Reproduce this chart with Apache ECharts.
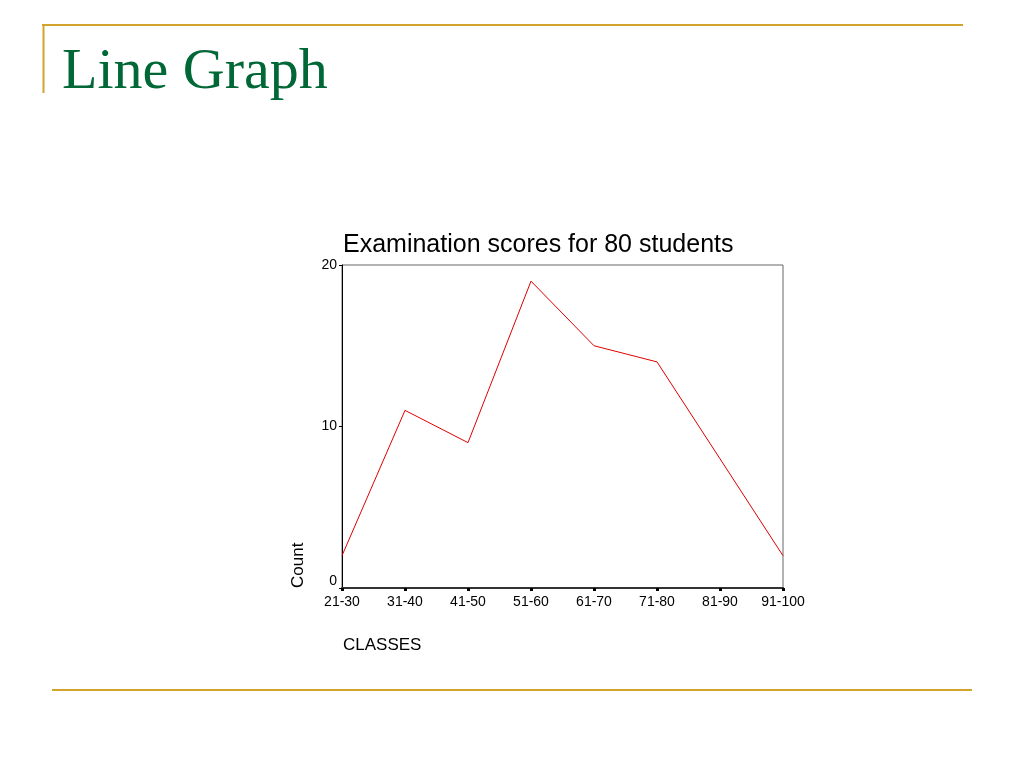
<!DOCTYPE html>
<html><head><meta charset="utf-8">
<script src="https://cdn.jsdelivr.net/npm/echarts@6/dist/echarts.min.js"></script>
<style>html,body{margin:0;padding:0;background:#fff}#c{width:1024px;height:768px}</style>
</head><body><div id="c"></div>
<script>
const categories = ['21-30','31-40','41-50','51-60','61-70','71-80','81-90','91-100'];
const counts = [2, 11, 9, 19, 15, 14, 8, 2];
const yTicks = [0, 10, 20];

const chart = echarts.init(document.getElementById('c'));
chart.setOption({
  animation: false,
  backgroundColor: '#fff',
  title: {
    text: 'Examination scores for 80 students',
    left: 338, top: 228,
    textStyle: {fontFamily: 'Liberation Sans, Arial', fontSize: 25, fontWeight: 'normal', color: '#000'}
  },
  grid: {left: 342, right: 241, top: 265, bottom: 180, show: true, borderColor: '#666', borderWidth: 1, containLabel: false},
  xAxis: {
    type: 'category', data: categories, boundaryGap: false,
    axisLine: {lineStyle: {color: '#333', width: 2}},
    axisTick: {show: true, alignWithLabel: true, length: 3, lineStyle: {color: '#000', width: 3}},
    axisLabel: {color: '#000', fontSize: 14, fontFamily: 'Liberation Sans, Arial', margin: 7, interval: 0},
    splitLine: {show: false}
  },
  yAxis: {
    type: 'value', min: yTicks[0], max: yTicks[yTicks.length-1], interval: 10,
    axisLine: {show: true, lineStyle: {color: '#000', width: 1}},
    axisTick: {show: true, length: 3, lineStyle: {color: '#000'}},
    axisLabel: {
      color: '#000', fontSize: 14, fontFamily: 'Liberation Sans, Arial', margin: 5,
      formatter: function (v) { return v === 0 ? '{z|0}' : String(v); },
      rich: {z: {fontSize: 14, fontFamily: 'Liberation Sans, Arial', color: '#000', padding: [0, 0, 14, 0]}}
    },
    splitLine: {show: false}
  },
  series: [{
    type: 'line', data: counts, showSymbol: false, symbol: 'none',
    lineStyle: {color: '#e00000', width: 1}
  }],
  graphic: [
    {type: 'line', shape: {x1: 42, y1: 25, x2: 963, y2: 25}, style: {stroke: '#d1a52c', lineWidth: 2}},
    {type: 'line', shape: {x1: 43.5, y1: 25, x2: 43.5, y2: 93}, style: {stroke: '#d1a52c', lineWidth: 2}},
    {type: 'line', shape: {x1: 52, y1: 690, x2: 972, y2: 690}, style: {stroke: '#d1a52c', lineWidth: 2}},
    {type: 'text', left: 62, top: 44, style: {text: 'Line Graph', font: '58px "Liberation Serif", "Times New Roman", serif', fill: '#006837'}},
    {type: 'text', x: 298, y: 588, rotation: Math.PI/2, style: {text: 'Count', font: '17px "Liberation Sans", Arial', fill: '#000', textAlign: 'left', textVerticalAlign: 'middle'}},
    {type: 'text', x: 343, y: 645, style: {text: 'CLASSES', font: '17px "Liberation Sans", Arial', fill: '#000', textAlign: 'left', textVerticalAlign: 'middle'}}
  ]
});
</script></body></html>
